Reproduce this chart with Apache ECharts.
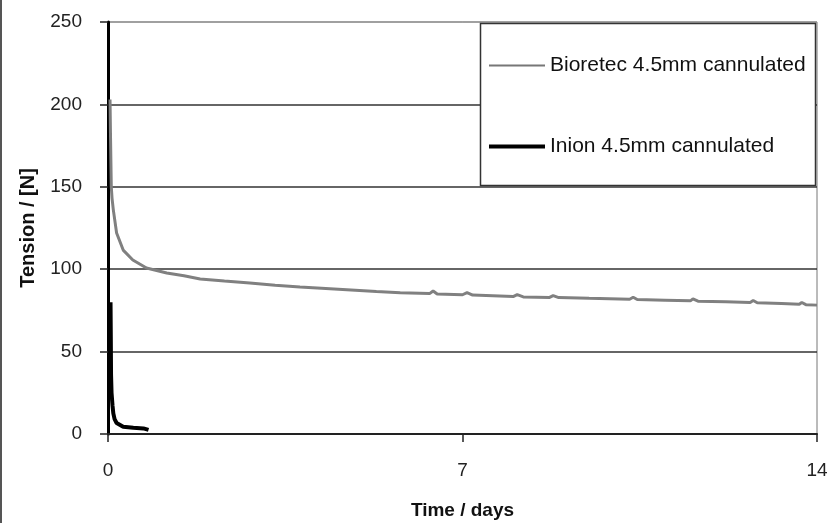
<!DOCTYPE html>
<html>
<head>
<meta charset="utf-8">
<script src="https://cdn.jsdelivr.net/npm/echarts@6/dist/echarts.min.js"></script>
<style>
    html,body{ margin:0; padding:0; background:#fff; }
    .echart{ width:829px; height:523px; }
</style>
</head>
<body>
<div class="echart" id="main"></div>
<script>
    // Bioretec 4.5mm cannulated (time in days, tension in N)
    const bioTime = [0.04, 0.05, 0.065, 0.08, 0.105, 0.17, 0.3, 0.49, 0.76, 1.16, 1.5, 1.82, 2.3, 2.8, 3.3, 3.79, 4.3, 4.8, 5.3, 5.77,
        6.35, 6.42, 6.5, 7.0, 7.09, 7.2, 8.0, 8.08, 8.2, 8.72, 8.79, 8.9, 9.5, 10.3, 10.37, 10.45, 11.0, 11.5, 11.55, 11.65,
        12.2, 12.68, 12.74, 12.82, 13.3, 13.65, 13.7, 13.78, 14.0]
    const bioTension = [203, 180, 150, 143, 136, 122, 111.6, 105.6, 100.7, 97.7, 96, 94, 92.8, 91.6, 90.3, 89.2, 88.3, 87.4, 86.5, 85.7,
        85.2, 86.8, 85, 84.5, 85.8, 84.3, 83.4, 84.6, 83.2, 82.9, 84, 82.8, 82.3, 81.8, 83, 81.6, 81.2, 80.8, 82, 80.6,
        80.2, 79.8, 81, 79.6, 79.2, 78.7, 79.8, 78.5, 78.2]
    // Inion 4.5mm cannulated
    const inionTime = [0.05, 0.055, 0.06, 0.07, 0.09, 0.105, 0.13, 0.17, 0.3, 0.5, 0.7, 0.8]
    const inionTension = [80, 60, 36, 25, 17, 12.5, 9, 6.7, 4.4, 3.8, 3.4, 2.5]

    const xTicks = [0, 7, 14]
    const yTicks = [0, 50, 100, 150, 200, 250]
    const seriesNames = ['Bioretec 4.5mm cannulated', 'Inion 4.5mm cannulated']

    const pairs = (xs, ys) => xs.map((x, i) => [x, ys[i]])

    const font = "'Liberation Sans', Arial, sans-serif"
    const chartInstance = echarts.init(document.getElementById('main'), null, { renderer: 'canvas' })

    const option = {
        animation: false,
        grid: {
            left: 108,
            right: 12,
            top: 22,
            bottom: 89,
            containLabel: false,
            outerBoundsMode: 'none',
            show: true,
            borderColor: '#777',
            borderWidth: 1
        },
        graphic: [
            {
                type: 'rect',
                shape: { x: 0, y: 0, width: 2, height: 523 },
                style: { fill: '#555' },
                z: 10
            },
            {
                type: 'rect',
                shape: { x: 480.5, y: 23.5, width: 335, height: 162 },
                style: { fill: '#fff', stroke: '#333', lineWidth: 1.5 },
                z: 10
            }
        ],
        legend: {
            data: [
                { name: seriesNames[0], lineStyle: { width: 2, color: '#777' } },
                { name: seriesNames[1], lineStyle: { width: 4, color: '#000' } }
            ],
            orient: 'vertical',
            left: 487,
            top: 55,
            padding: 0,
            itemWidth: 56,
            itemHeight: 20,
            itemGap: 60,
            z: 20,
            itemStyle: { opacity: 0 },
            textStyle: {
                fontFamily: font,
                fontSize: 21,
                lineHeight: 20,
                color: '#111'
            }
        },
        xAxis: {
            type: 'value',
            min: xTicks[0],
            max: xTicks[xTicks.length - 1],
            interval: 7,
            name: 'Time / days',
            nameLocation: 'middle',
            nameGap: 67,
            nameTextStyle: { fontFamily: font, fontSize: 19, fontWeight: 'bold', color: '#111' },
            axisLine: { show: true, onZero: false, lineStyle: { color: '#222', width: 2 } },
            axisTick: { show: true, inside: false, length: 8, lineStyle: { color: '#222', width: 1.5 } },
            axisLabel: {
                fontFamily: font, fontSize: 19, color: '#222', margin: 27,
                formatter: (v) => xTicks.includes(v) ? String(v) : ''
            },
            splitLine: { show: false }
        },
        yAxis: {
            type: 'value',
            min: yTicks[0],
            max: yTicks[yTicks.length - 1],
            interval: 50,
            name: 'Tension / [N]',
            nameLocation: 'middle',
            nameGap: 70,
            nameTextStyle: { fontFamily: font, fontSize: 20, fontWeight: 'bold', color: '#111' },
            axisLine: { show: true, onZero: false, lineStyle: { color: '#000', width: 3 } },
            axisTick: { show: true, inside: false, length: 8, lineStyle: { color: '#222', width: 1.5 } },
            axisLabel: { fontFamily: font, fontSize: 19, color: '#222', margin: 26 },
            splitLine: {
                show: true,
                lineStyle: { color: ['#222', '#333', '#333', '#333', '#333', '#999'], width: 1.5 }
            }
        },
        series: [
            {
                name: seriesNames[0],
                type: 'line',
                data: pairs(bioTime, bioTension),
                symbol: 'none',
                showSymbol: false,
                lineStyle: { color: '#808080', width: 3 },
                itemStyle: { color: '#808080' },
                z: 3
            },
            {
                name: seriesNames[1],
                type: 'line',
                data: pairs(inionTime, inionTension),
                symbol: 'none',
                showSymbol: false,
                lineStyle: { color: '#000', width: 4 },
                itemStyle: { color: '#000' },
                z: 4
            }
        ]
    }
    chartInstance.setOption(option)
</script>
</body>
</html>
